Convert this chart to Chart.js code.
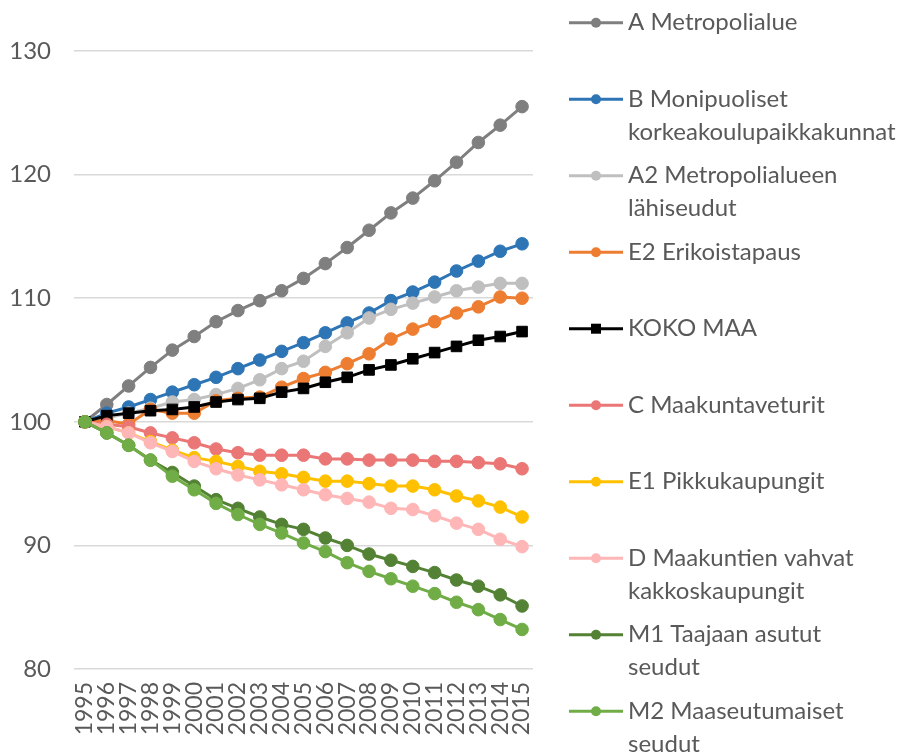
<!DOCTYPE html>
<html>
<head>
<meta charset="utf-8">
<script src="https://cdn.jsdelivr.net/npm/chart.js@4/dist/chart.umd.min.js"></script>
<style>
  html, body { margin: 0; padding: 0; background: #ffffff; }
  #wrap { width: 911px; height: 754px; position: relative; }
</style>
</head>
<body>
<div id="wrap"><canvas id="c"></canvas></div>
<script>
const years = ['1995','1996','1997','1998','1999','2000','2001','2002','2003','2004','2005','2006','2007','2008','2009','2010','2011','2012','2013','2014','2015'];

const seriesNames = [
  'A Metropolialue',
  'B Monipuoliset\nkorkeakoulupaikkakunnat',
  'A2 Metropolialueen\nlähiseudut',
  'E2 Erikoistapaus',
  'KOKO MAA',
  'C Maakuntaveturit',
  'E1 Pikkukaupungit',
  'D Maakuntien vahvat\nkakkoskaupungit',
  'M1 Taajaan asutut\nseudut',
  'M2 Maaseutumaiset\nseudut'
];

const aMetropolialue = [100,101.4,102.9,104.4,105.8,106.9,108.1,109.0,109.8,110.6,111.6,112.8,114.1,115.5,116.9,118.1,119.5,121.0,122.6,124.0,125.5];
const bMonipuoliset = [100,100.7,101.2,101.8,102.4,103.0,103.6,104.3,105.0,105.7,106.4,107.2,108.0,108.8,109.8,110.5,111.3,112.2,113.0,113.8,114.4];
const a2Lahiseudut = [100,100.3,100.7,101.1,101.6,101.8,102.2,102.7,103.4,104.3,104.9,106.1,107.2,108.4,109.1,109.6,110.1,110.6,110.9,111.2,111.2];
const e2Erikoistapaus = [100,100.1,99.8,101.0,100.7,100.7,101.7,101.9,102.0,102.8,103.5,104.0,104.7,105.5,106.7,107.5,108.1,108.8,109.3,110.1,110.0];
const kokoMaa = [100,100.5,100.7,100.9,101.0,101.2,101.6,101.8,101.9,102.4,102.7,103.2,103.6,104.2,104.6,105.1,105.6,106.1,106.6,106.9,107.3];
const cMaakuntaveturit = [100,99.8,99.6,99.1,98.7,98.3,97.8,97.5,97.3,97.3,97.3,97.0,97.0,96.9,96.9,96.9,96.8,96.8,96.7,96.6,96.2];
const e1Pikkukaupungit = [100,99.6,99.1,98.4,97.7,97.1,96.8,96.4,96.0,95.8,95.5,95.2,95.2,95.0,94.8,94.8,94.5,94.0,93.6,93.1,92.3];
const dKakkoskaupungit = [100,99.6,99.1,98.3,97.6,96.8,96.2,95.7,95.3,94.9,94.5,94.1,93.8,93.5,93.0,92.9,92.4,91.8,91.3,90.5,89.9];
const m1Taajaan = [100,99.1,98.1,96.9,95.9,94.8,93.7,93.0,92.3,91.7,91.3,90.6,90.0,89.3,88.8,88.3,87.8,87.2,86.7,86.0,85.1];
const m2Maaseutu = [100,99.1,98.1,96.9,95.6,94.5,93.4,92.5,91.7,91.0,90.2,89.5,88.6,87.9,87.3,86.7,86.1,85.4,84.8,84.0,83.2];

const yTicks = [80, 90, 100, 110, 120, 130];

const seriesValues = [aMetropolialue, bMonipuoliset, a2Lahiseudut, e2Erikoistapaus, kokoMaa,
  cMaakuntaveturit, e1Pikkukaupungit, dKakkoskaupungit, m1Taajaan, m2Maaseutu];
const seriesColors = ['#7f7f7f', '#2e75b6', '#bfbfbf', '#ed7d31', '#000000',
  '#ea7676', '#ffc000', '#ffb6b6', '#548235', '#70ad47'];

const FONT = 'Lato, "Open Sans", sans-serif';
const TEXT_COLOR = '#595959';

const datasets = seriesValues.map((vals, i) => {
  const isSquare = i === 4;
  return {
    label: seriesNames[i],
    data: vals,
    borderColor: seriesColors[i],
    backgroundColor: seriesColors[i],
    pointBackgroundColor: seriesColors[i],
    pointBorderColor: seriesColors[i],
    borderWidth: 3,
    pointRadius: isSquare ? 7.5 : 6.3,
    pointHoverRadius: isSquare ? 7.5 : 6.3,
    pointBorderWidth: 1,
    pointStyle: isSquare ? 'rect' : 'circle',
    tension: 0,
    fill: false,
    order: seriesValues.length - i
  };
});

const legendPlugin = {
  id: 'sideLegend',
  afterDraw(chart) {
    const ctx = chart.ctx;
    ctx.save();
    const x0 = 569, x1 = 623, xm = 596, tx = 628;
    const firstY = 22.7, step = 76.5, lineGap = 33;
    chart.data.datasets.forEach((ds, i) => {
      const y = firstY + i * step;
      ctx.strokeStyle = ds.borderColor;
      ctx.lineWidth = 3;
      ctx.beginPath();
      ctx.moveTo(x0, y);
      ctx.lineTo(x1, y);
      ctx.stroke();
      ctx.fillStyle = ds.borderColor;
      if (ds.pointStyle === 'rect') {
        ctx.fillRect(xm - 5, y - 5, 10, 10);
      } else {
        ctx.beginPath();
        ctx.arc(xm, y, 5, 0, Math.PI * 2);
        ctx.fill();
      }
      ctx.fillStyle = TEXT_COLOR;
      ctx.font = '24px ' + FONT;
      ctx.textAlign = 'left';
      ctx.textBaseline = 'middle';
      ds.label.split('\n').forEach((ln, k) => {
        ctx.fillText(ln, tx, y + k * lineGap);
      });
    });
    ctx.restore();
  }
};

new Chart(document.getElementById('c'), {
  type: 'line',
  data: { labels: years, datasets: datasets },
  plugins: [legendPlugin],
  options: {
    responsive: true,
    maintainAspectRatio: false,
    animation: false,
    layout: { padding: { left: 0, top: 51, right: 378, bottom: 0 } },
    plugins: {
      legend: { display: false },
      tooltip: { enabled: false },
      title: { display: false }
    },
    scales: {
      x: {
        offset: true,
        grid: { display: false, drawTicks: false },
        border: { display: false },
        ticks: {
          autoSkip: false,
          minRotation: 90,
          maxRotation: 90,
          padding: 13,
          color: TEXT_COLOR,
          font: { family: FONT, size: 23 }
        },
        afterFit(scale) { scale.height = 85; }
      },
      y: {
        min: 80,
        max: 130,
        afterBuildTicks(scale) { scale.ticks = yTicks.map(v => ({ value: v })); },
        grid: { color: '#d9d9d9', lineWidth: 1.5, drawTicks: false },
        border: { display: false },
        ticks: {
          padding: 23,
          color: TEXT_COLOR,
          font: { family: FONT, size: 24 }
        },
        afterFit(scale) { scale.width = 74; }
      }
    }
  }
});
</script>
</body>
</html>
